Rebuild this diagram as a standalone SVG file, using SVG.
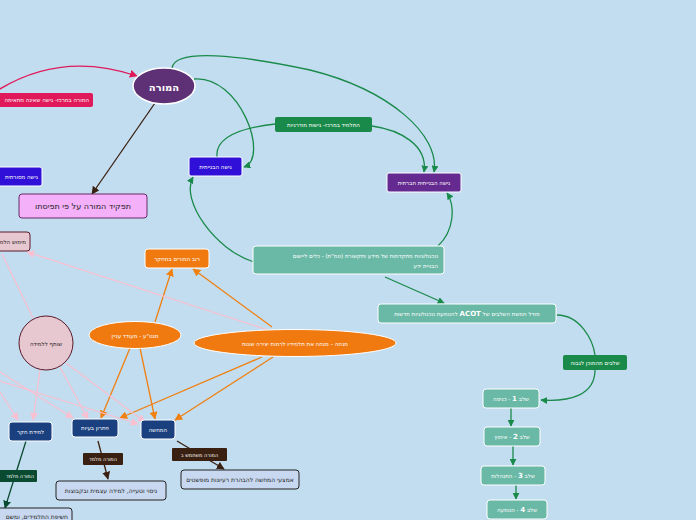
<svg xmlns="http://www.w3.org/2000/svg" width="696" height="520" viewBox="0 0 696 520">
<defs>
<marker id="aG" viewBox="0 0 10 10" refX="9" refY="5" markerWidth="7" markerHeight="7" orient="auto" markerUnits="userSpaceOnUse"><path d="M0,0 L10,5 L0,10 z" fill="#1a8a4a"/></marker>
<marker id="aP" viewBox="0 0 10 10" refX="9" refY="5" markerWidth="8" markerHeight="8" orient="auto" markerUnits="userSpaceOnUse"><path d="M0,0 L10,5 L0,10 z" fill="#e0195a"/></marker>
<marker id="aB" viewBox="0 0 10 10" refX="9" refY="5" markerWidth="8" markerHeight="8" orient="auto" markerUnits="userSpaceOnUse"><path d="M0,0 L10,5 L0,10 z" fill="#3a2010"/></marker>
<marker id="aO" viewBox="0 0 10 10" refX="9" refY="5" markerWidth="8" markerHeight="8" orient="auto" markerUnits="userSpaceOnUse"><path d="M0,0 L10,5 L0,10 z" fill="#f08010"/></marker>
<marker id="aK" viewBox="0 0 10 10" refX="9" refY="5" markerWidth="8" markerHeight="8" orient="auto" markerUnits="userSpaceOnUse"><path d="M0,0 L10,5 L0,10 z" fill="#f8c0d0"/></marker>
<marker id="aD" viewBox="0 0 10 10" refX="9" refY="5" markerWidth="8" markerHeight="8" orient="auto" markerUnits="userSpaceOnUse"><path d="M0,0 L10,5 L0,10 z" fill="#0a4a30"/></marker>
</defs>
<style>
text{font-family:"DejaVu Sans","Liberation Sans",sans-serif;direction:rtl;text-anchor:middle;dominant-baseline:central}
.w{fill:#fff;font-size:5.5px}
.d{fill:#222;font-size:6px}
.g{fill:none;stroke:#1a8a4a;stroke-width:1.3}
.o{fill:none;stroke:#f08010;stroke-width:1.3}
.k{fill:none;stroke:#f8c0d0;stroke-width:1.3}
.bw{stroke:#fff;stroke-width:1}
</style>
<rect width="696" height="520" fill="#c2ddf0"/>
<g id="connectors">
<path d="M-5,92 Q60,50 137,76" fill="none" stroke="#e0195a" stroke-width="1.3" marker-end="url(#aP)"/>
<path d="M155,103 L92,194" stroke="#3a2010" stroke-width="1.3" marker-end="url(#aB)"/>
<path class="g" d="M194,79 C240,75 270,158 244,167" marker-end="url(#aG)"/>
<path class="g" d="M172,68 C175,48 240,55 310,70 C390,90 440,135 434,172" marker-end="url(#aG)"/>
<path class="g" d="M275,124 C240,128 215,138 217,157"/>
<path class="g" d="M372,126 C400,130 428,145 424,172" marker-end="url(#aG)"/>
<path class="g" d="M438,246 C455,230 455,205 447,193" marker-end="url(#aG)"/>
<path class="g" d="M254,262 C215,250 180,200 193,177" marker-end="url(#aG)"/>
<path class="g" d="M385,277 L444,303" marker-end="url(#aG)"/>
<path class="g" d="M557,315 C580,315 593,340 595,355"/>
<path class="g" d="M595,370 C595,395 570,402 541,400" marker-end="url(#aG)"/>
<path class="g" d="M511,408 L511,426" marker-end="url(#aG)"/>
<path class="g" d="M513,446 L513,465" marker-end="url(#aG)"/>
<path class="g" d="M516,485 L516,499" marker-end="url(#aG)"/>
<path class="o" d="M155,322 L172,269" marker-end="url(#aO)"/>
<path class="o" d="M272,327 L193,269" marker-end="url(#aO)"/>
<path class="o" d="M130,348 L101,418" marker-end="url(#aO)"/>
<path class="o" d="M140,348 L155,419" marker-end="url(#aO)"/>
<path class="o" d="M262,357 L120,418" marker-end="url(#aO)"/>
<path class="o" d="M273,357 L175,420" marker-end="url(#aO)"/>
<path class="k" d="M268,330 L27,252" marker-end="url(#aK)"/>
<path class="k" d="M2,254 L33,318"/>
<path class="k" d="M40,370 L33,420" marker-end="url(#aK)"/>
<path class="k" d="M60,367 L88,419" marker-end="url(#aK)"/>
<path class="k" d="M66,363 L145,422" marker-end="url(#aK)"/>
<path class="k" d="M0,372 L73,418" marker-end="url(#aK)"/>
<path class="k" d="M0,381 L138,424" marker-end="url(#aK)"/>
<path class="k" d="M0,392 L18,420" marker-end="url(#aK)"/>
<path d="M98,441 L108,479" stroke="#3a2010" stroke-width="1.3" marker-end="url(#aB)"/>
<path d="M177,441 L224,469" stroke="#3a2010" stroke-width="1.3" marker-end="url(#aB)"/>
<path d="M26,441 L5,508" stroke="#0a4a30" stroke-width="1.3" marker-end="url(#aD)"/>
</g>
<g id="teacher"><ellipse cx="164" cy="86" rx="31" ry="18" fill="#5e3176" stroke="#fff" stroke-width="1.5"/><text x="164" y="87" style="fill:#fff;font-size:10px;font-weight:bold">המורה</text></g>
<g id="teacherCenter"><rect x="-10" y="93" width="103" height="14" rx="2" fill="#e0195a"/><text x="89" y="100" class="w" style="text-anchor:start">המורה במרכז- גישה שאינה מתאימה</text></g>
<g id="role"><rect x="19" y="194" width="128" height="24" rx="3" fill="#f4b0f8" stroke="#6a2a6a" stroke-width="1"/><text x="83" y="206" style="fill:#222;font-size:8px">תפקיד המורה על פי תפיסתו</text></g>
<g id="traditional"><rect x="-10" y="167" width="52" height="19" rx="2" fill="#3010d8" class="bw"/><text x="38" y="176.5" class="w" style="text-anchor:start">גישה מסורתית</text></g>
<g id="constructivist"><rect x="189" y="157" width="53" height="19" rx="2" fill="#3010d8" class="bw"/><text x="215.5" y="166.5" class="w">גישה הבנייתית</text></g>
<g id="studentCenter"><rect x="275" y="117" width="97" height="15" rx="2" fill="#1a8a4a"/><text x="323.5" y="124.5" class="w">התלמיד במרכז- גישות מודרניות</text></g>
<g id="socialConstructivist"><rect x="387" y="173" width="74" height="19" rx="2" fill="#642a90" class="bw"/><text x="424" y="182.5" class="w">גישה הבנייתית חברתית</text></g>
<g id="ict"><rect x="253" y="246" width="191" height="28" rx="3" fill="#6ab8a6" class="bw"/><text x="438" y="256" class="w" style="text-anchor:start">טכנולוגיות מתקדמות של מידע ותקשורת (טמ"ת) - כלים ליישום</text><text x="438" y="266" class="w" style="text-anchor:start">הבניית ידע</text></g>
<g id="acot"><rect x="378" y="304" width="178" height="19" rx="3" fill="#6ab8a6" class="bw"/><text x="467" y="313.5" class="w">מודל חמשת השלבים של <tspan style="font-weight:bold;font-size:7px">ACOT</tspan> להטמעת טכנולוגיות חדשות</text></g>
<g id="stages"><rect x="563" y="355" width="64" height="15" rx="2" fill="#1a8a4a"/><text x="595" y="362.5" class="w">שלבים מהמוכן לגבוה</text></g>
<g id="step1"><rect x="483" y="389" width="56" height="19" rx="3" fill="#6ab8a6" class="bw"/><text x="511" y="398.5" class="w">שלב <tspan style="font-weight:bold;font-size:7px">1</tspan> - כניסה</text></g>
<g id="step2"><rect x="484" y="427" width="56" height="19" rx="3" fill="#6ab8a6" class="bw"/><text x="512" y="436.5" class="w">שלב <tspan style="font-weight:bold;font-size:7px">2</tspan> - אימוץ</text></g>
<g id="step3"><rect x="481" y="466" width="64" height="19" rx="3" fill="#6ab8a6" class="bw"/><text x="513" y="475.5" class="w">שלב <tspan style="font-weight:bold;font-size:7px">3</tspan> - התנהלות</text></g>
<g id="step4"><rect x="487" y="500" width="60" height="19" rx="3" fill="#6ab8a6" class="bw"/><text x="517" y="509.5" class="w">שלב <tspan style="font-weight:bold;font-size:7px">4</tspan> - הטמעה</text></g>
<g id="research"><rect x="145" y="249" width="64" height="19" rx="3" fill="#f07a10" class="bw"/><text x="177" y="258.5" class="w">רוב המורים במחקר</text></g>
<g id="motivator"><ellipse cx="135" cy="335" rx="46" ry="13.5" fill="#f07a10" class="bw"/><text x="135" y="335.5" class="w">מנט"ע - מעודד עניין</text></g>
<g id="guide"><ellipse cx="295" cy="343" rx="101" ry="13.5" fill="#f07a10" class="bw"/><text x="295" y="343.5" class="w">מנחה – מנחה את תלמידיו לרמות יצירה שונות</text></g>
<g id="partner"><circle cx="46" cy="343" r="27" fill="#e8c8d0" stroke="#5a1a2a" stroke-width="1"/><text x="46" y="343.5" class="d" style="font-size:5.5px">שותף ללמידה</text></g>
<g id="realize"><rect x="-10" y="232" width="40" height="19" rx="3" fill="#e8c8d0" stroke="#5a1a2a" stroke-width="1"/><text x="26" y="241.5" class="d" style="font-size:5.5px;text-anchor:start">מימוש הלמידה</text></g>
<g id="inquiry"><rect x="9" y="422" width="43" height="19" rx="3" fill="#1a4080" class="bw"/><text x="30.5" y="431.5" class="w">למידת חקר</text></g>
<g id="problem"><rect x="72" y="419" width="46" height="18" rx="3" fill="#1a4080" class="bw"/><text x="95" y="428" class="w">פתרון בעיות</text></g>
<g id="demo"><rect x="141" y="420" width="34" height="19" rx="3" fill="#1a4080" class="bw"/><text x="158" y="429.5" class="w">המחשה</text></g>
<g id="teaches1"><rect x="83" y="453" width="40" height="12" rx="1" fill="#3a2010"/><text x="103" y="459" class="w" style="font-size:5px">המורה מלמד</text></g>
<g id="uses"><rect x="172" y="448" width="55" height="13" rx="1" fill="#3a2010"/><text x="199.5" y="454.5" class="w" style="font-size:5px">המורה משתמש ב</text></g>
<g id="trial"><rect x="56" y="481" width="110" height="19" rx="3" fill="#c8d8f0" stroke="#222" stroke-width="1"/><text x="111" y="490.5" class="d">ניסוי וטעייה, למידה עצמית ובקבוצות</text></g>
<g id="abstract"><rect x="181" y="470" width="118" height="19" rx="3" fill="#c8d8f0" stroke="#222" stroke-width="1"/><text x="240" y="479.5" class="d">אמצעי המחשה להבהרת רעיונות מופשטים</text></g>
<g id="teaches2"><rect x="-10" y="470" width="47" height="12" rx="1" fill="#0a4a30"/><text x="34" y="476" class="w" style="font-size:5px;text-anchor:start">המורה מלמד</text></g>
<g id="exposure"><rect x="-10" y="508" width="82" height="18" rx="3" fill="#c8d8f0" stroke="#222" stroke-width="1"/><text x="68" y="516" class="d" style="text-anchor:start">חשיפת התלמידים, ומשם</text></g>
</svg>
